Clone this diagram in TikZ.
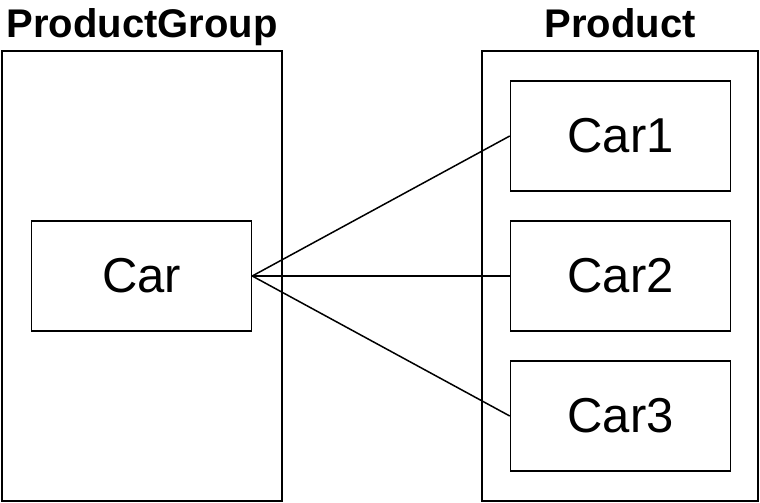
\documentclass[tikz,border=0pt]{standalone}
\usepackage{fontspec}
\setmainfont{Liberation Sans}
\usetikzlibrary{positioning}

\tikzset{
  group/.style={draw, minimum width=278pt, minimum height=450pt, inner sep=0pt},
  item/.style={draw, minimum width=220pt, minimum height=110pt, inner sep=0pt, font=\fontsize{49}{56}\selectfont},
  title/.style={font=\bfseries\fontsize{40}{46}\selectfont, inner sep=0pt, anchor=base}
}

\begin{document}
\begin{tikzpicture}[x=1pt, y=-1pt, line width=1.5pt]
\useasboundingbox (0,0) rectangle (760,503);
% containers
\node[group, minimum width=280pt] (grp) at (142,276) {};
\node[group, minimum width=276pt] (prod) at (620,276) {};
\node[title] (grptitle) at ([yshift=13pt]grp.north) {ProductGroup};
\node[title] (prodtitle) at ([yshift=13pt]prod.north) {Product};
% entries
\node[item] (car) at (141.5,276) {Car};
\node[item] (car1) at (620.5,136) {Car1};
\node[item, below=28.5pt of car1] (car2) {Car2};
\node[item, below=28.5pt of car2] (car3) {Car3};
% links
\draw (car.east) -- (car1.west);
\draw (car.east) -- (car2.west);
\draw (car.east) -- (car3.west);
\end{tikzpicture}
\end{document}
